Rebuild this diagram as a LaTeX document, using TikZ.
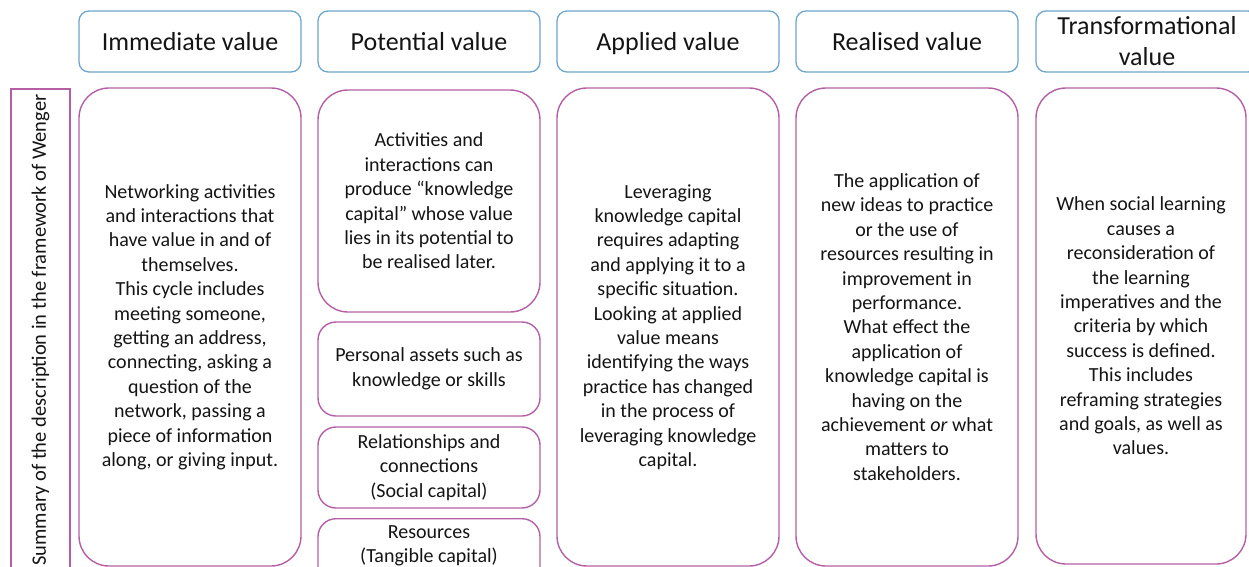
\documentclass[tikz,border=0pt]{standalone}
\usepackage{fontspec}
\setmainfont{Carlito}
\definecolor{hdrblue}{RGB}{110,165,205}
\definecolor{pinkb}{RGB}{180,95,165}
\definecolor{txt}{RGB}{20,20,20}
\tikzset{
  hdr/.style={draw=hdrblue, line width=1.3pt, rounded corners=10pt, minimum width=222pt, minimum height=61pt, align=center, text=txt, font=\fontsize{26}{31}\selectfont, inner sep=0pt, text height=22pt, text depth=5pt},
  bigbox/.style={draw=pinkb, line width=1.4pt, rounded corners=30pt, minimum width=222pt, align=center, text=txt, font=\fontsize{20}{24.4}\selectfont, inner sep=0pt},
  subbox/.style={draw=pinkb, line width=1.4pt, rounded corners=18pt, minimum width=222pt, align=center, text=txt, font=\fontsize{20}{24.6}\selectfont, inner sep=0pt},
  sidebox/.style={draw=pinkb, line width=1.4pt, minimum width=482pt, minimum height=59pt, align=center, text=txt, font=\fontsize{20.5}{24}\selectfont, inner sep=0pt, rotate=90},
  plain/.style={align=center, text=txt, font=\fontsize{20}{24.4}\selectfont, inner sep=0pt}
}
\begin{document}
\begin{tikzpicture}[x=1pt,y=-1pt]
\useasboundingbox (0,0) rectangle (1249,566);
\clip (0,0) rectangle (1249,566);
% headers
\node[hdr] (h1) at (190,41.5) {Immediate value};
\node[hdr] (h2) at (429,41.5) {Potential value};
\node[hdr] (h3) at (668,41.5) {Applied value};
\node[hdr] (h4) at (907,41.5) {Realised value};
\node[hdr, text height=, text depth=] (h5) at (1147,41.5) {Transformational\\value};
% side label
\node[sidebox] (side) at (40.5,330) {Summary of the description in the framework of Wenger};
% immediate
\node[bigbox, minimum height=478pt] (b1) at (190,327) {Networking activities\\and interactions that\\have value in and of\\themselves.\\This cycle includes\\meeting someone,\\getting an address,\\connecting, asking a\\question of the\\network, passing a\\piece of information\\along, or giving input.};
% potential
\node[bigbox, minimum height=222pt] (b2) at (429,201) {Activities and\\interactions can\\produce “knowledge\\capital” whose value\\lies in its potential to\\be realised later.};
\node[subbox, minimum height=94pt] (b2a) at (429,369) {Personal assets such as\\knowledge or skills};
\node[subbox, minimum height=81pt] (b2b) at (429,467.5) {Relationships and\\connections\\(Social capital)};
\node[subbox, minimum height=100pt, anchor=north] (b2c) at (429,518) {};
\node[plain, anchor=north] (b2ct) at ([yshift=-7pt]b2c.north) {Resources\\(Tangible capital)};
% applied
\node[bigbox, minimum height=478pt] (b3) at (668,327) {Leveraging\\knowledge capital\\requires adapting\\and applying it to a\\specific situation.\\Looking at applied\\value means\\identifying the ways\\practice has changed\\in the process of\\leveraging knowledge\\capital.};
% realised
\node[bigbox, minimum height=478pt] (b4) at (907,327) {The application of\\new ideas to practice\\or the use of\\resources resulting in\\improvement in\\performance.\\What effect the\\application of\\knowledge capital is\\having on the\\achievement \textit{or} what\\matters to\\stakeholders.};
% transformational
\node[bigbox, minimum width=210pt, minimum height=476pt] (b5) at (1141,326) {When social learning\\causes a\\reconsideration of\\the learning\\imperatives and the\\criteria by which\\success is defined.\\This includes\\reframing strategies\\and goals, as well as\\values.};
\end{tikzpicture}
\end{document}
